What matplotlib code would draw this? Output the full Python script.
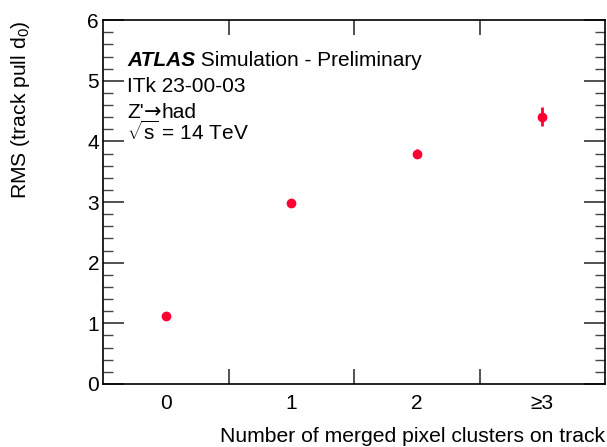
import numpy as np
import matplotlib
matplotlib.use("Agg")
import matplotlib.pyplot as plt
from matplotlib.ticker import MultipleLocator, FixedLocator

plt.rcParams.update({
    "font.family": ["Liberation Sans", "DejaVu Sans"],
    "mathtext.fontset": "custom",
    "mathtext.rm": "Liberation Sans",
    "mathtext.it": "Liberation Sans:italic",
})

# RMS of the d0 track pull vs merged pixel clusters
categories = ["0", "1", "2", "≥3"]
rms = [1.12, 2.98, 3.80, 4.41]
rms_err = [0.02, 0.03, 0.07, 0.16]

fig = plt.figure(figsize=(6.07, 4.47), dpi=100)
ax = fig.add_axes([0.170, 0.141, 0.827, 0.814])

x = np.arange(len(categories))
ax.errorbar(x, rms, yerr=rms_err, fmt="o", color="#ff0033", markersize=6,
            elinewidth=2.0, capsize=0, zorder=3)

ax.set_xlim(-0.5, 3.5)
ax.set_ylim(0, 6)

# bin edges carry the ticks, labels sit at bin centres
ax.xaxis.set_major_locator(FixedLocator([0.5, 1.5, 2.5]))
ax.xaxis.set_minor_locator(FixedLocator(x))
ax.set_xticklabels([])
ax.set_xticklabels(categories, minor=True)
ax.tick_params(axis="x", which="major", direction="in", length=11, width=1.2,
               top=True, bottom=True, color="#333333")
ax.tick_params(axis="x", which="minor", length=0, pad=7, labelsize=15)

ax.yaxis.set_major_locator(MultipleLocator(1))
ax.yaxis.set_minor_locator(MultipleLocator(0.2))
ax.tick_params(axis="y", which="major", direction="in", length=15, width=1.2,
               left=True, right=True, labelsize=15, pad=3, color="#333333")
ax.tick_params(axis="y", which="minor", direction="in", length=7.5, width=1.0,
               left=True, right=True, color="#444444")

for s in ax.spines.values():
    s.set_linewidth(1.2)

ax.set_xlabel("Number of merged pixel clusters on track", fontsize=15.2,
              loc="right", labelpad=10)
ax.set_ylabel("RMS (track pull d$_0$)", fontsize=15.2, loc="top", labelpad=40)

# experiment label block
lbl = ax.text(0.048, 0.874, "ATLAS", transform=ax.transAxes, fontsize=15,
              fontweight="bold", fontstyle="italic", va="baseline")
ax.annotate(" Simulation - Preliminary", xy=(1, 0), xycoords=lbl,
            va="bottom", fontsize=15)
ax.text(0.048, 0.802, "ITk 23-00-03", transform=ax.transAxes, fontsize=15,
        va="baseline")
zp = ax.text(0.048, 0.731, "Z'", transform=ax.transAxes, fontsize=15,
             va="baseline")
arr = ax.annotate("→", xy=(1, 0), xycoords=zp, va="bottom", fontsize=15,
                  family="DejaVu Sans")
ax.annotate("had", xy=(1, 0), xycoords=arr, va="bottom", fontsize=15)
ax.text(0.048, 0.670, r"$\sqrt{\mathrm{s}}$ = 14 TeV", transform=ax.transAxes,
        fontsize=15, va="baseline")

fig.savefig("out.png", dpi=100)
